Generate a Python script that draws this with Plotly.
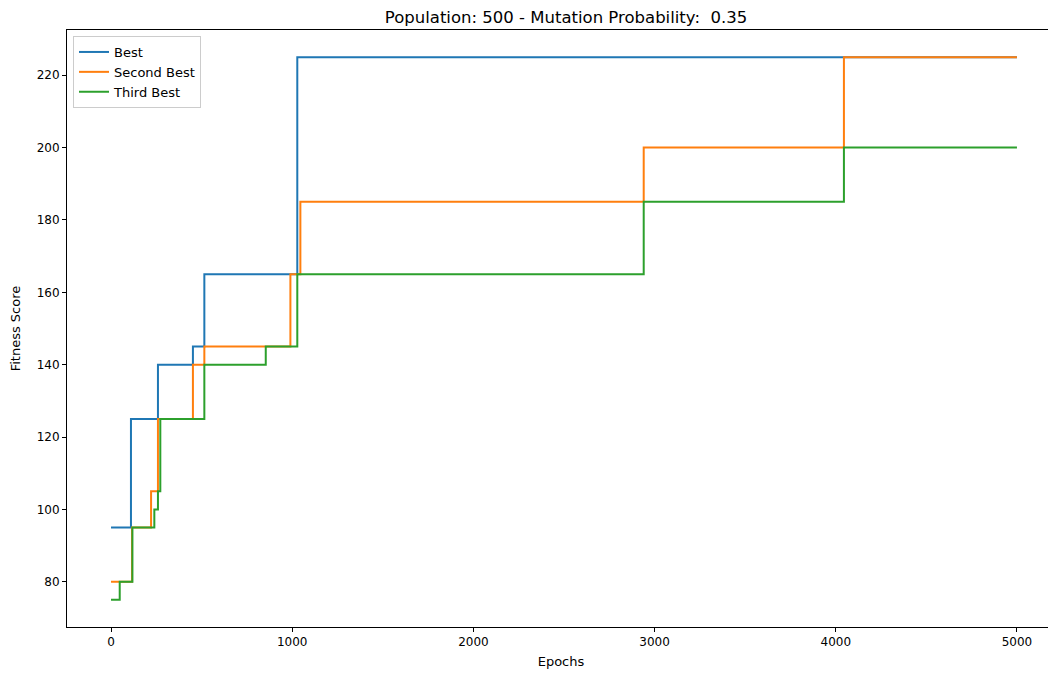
import plotly.graph_objects as go

# Change points (epoch, fitness) for each series; last point is the final epoch
best_x = [0, 110, 259, 452, 515, 1028, 5000]
best_y = [95, 125, 140, 145, 165, 225, 225]

second_x = [0, 116, 221, 259, 452, 515, 990, 1045, 2940, 4045, 5000]
second_y = [80, 95, 105, 125, 140, 145, 165, 185, 200, 225, 225]

third_x = [0, 48, 118, 239, 259, 272, 515, 854, 1028, 2940, 4045, 5000]
third_y = [75, 80, 95, 100, 105, 125, 140, 145, 165, 185, 200, 200]

x_ticks = [0, 1000, 2000, 3000, 4000, 5000]
y_ticks = [80, 100, 120, 140, 160, 180, 200, 220]

fig = go.Figure()
for name, xs, ys, col in [("Best", best_x, best_y, "#1f77b4"),
                          ("Second Best", second_x, second_y, "#ff7f0e"),
                          ("Third Best", third_x, third_y, "#2ca02c")]:
    fig.add_trace(go.Scatter(x=xs, y=ys, mode="lines", name=name,
                             line=dict(color=col, width=2, shape="hv")))

font = "DejaVu Sans, sans-serif"
W, H = 1048, 665
fig.update_layout(
    width=W, height=H,
    paper_bgcolor="white", plot_bgcolor="white",
    margin=dict(l=59, r=1, t=22, b=46),
    font=dict(family=font, size=13, color="black"),
    title=dict(text="Population: 500 - Mutation Probability:  0.35",
               x=558 / W, xanchor="center", y=1 - 9.5 / H, yanchor="middle",
               font=dict(family=font, size=16.5, color="black")),
    legend=dict(x=6 / 988, y=1 - 6 / 597, xanchor="left", yanchor="top",
                bgcolor="rgba(255,255,255,0.8)", bordercolor="#cccccc",
                borderwidth=1, font=dict(family=font, size=13),
                tracegroupgap=0, itemwidth=30),
    showlegend=True,
)
fig.update_xaxes(range=[-243, 5210], tickvals=x_ticks, ticks="outside",
                 ticklen=4, tickcolor="black", showline=True, linecolor="black",
                 linewidth=1, mirror=True, showgrid=False, zeroline=False,
                 tickfont=dict(size=12), title=dict(text="Epochs", font=dict(size=13), standoff=8))
fig.update_yaxes(range=[67.5, 232.5], tickvals=y_ticks, ticks="outside",
                 ticklen=4, tickcolor="black", showline=True, linecolor="black",
                 linewidth=1, mirror=False, showgrid=False, zeroline=False,
                 tickfont=dict(size=12), title=dict(text="Fitness Score", font=dict(size=13), standoff=16))

fig.write_html("out.html")
